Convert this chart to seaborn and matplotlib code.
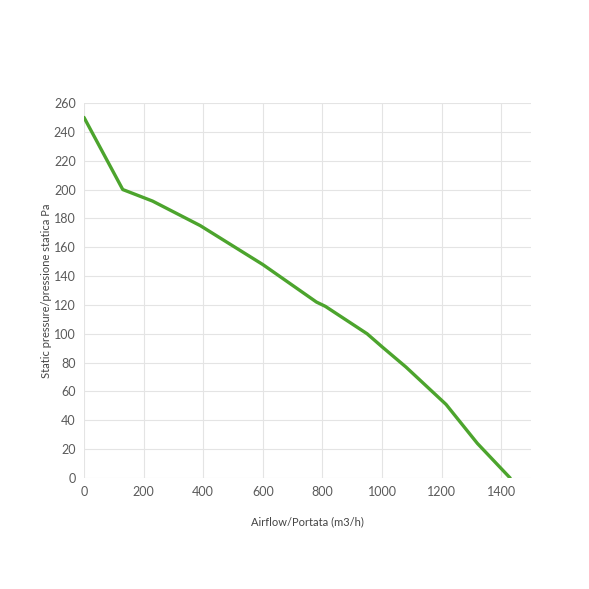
import matplotlib
matplotlib.use("Agg")
import matplotlib.pyplot as plt
import seaborn as sns
import pandas as pd

airflow = [0, 130, 230, 390, 600, 780, 810, 950, 1000, 1080, 1215, 1320, 1430]
pressure = [250, 200, 192, 175, 148, 122, 119, 100, 91, 77, 51, 24, 0]
x_ticks = [0, 200, 400, 600, 800, 1000, 1200, 1400]
y_ticks = list(range(0, 261, 20))

sns.set_theme(style="whitegrid")
plt.rcParams['font.family'] = ['Lato', 'DejaVu Sans']

df = pd.DataFrame({"Airflow": airflow, "Pressure": pressure})

fig = plt.figure(figsize=(5.89, 5.89), dpi=100)
ax = fig.add_axes([84/589, 1 - 478/589, (531-84)/589, (478-103)/589])
sns.lineplot(data=df, x="Airflow", y="Pressure", ax=ax, color="#4ca42d", linewidth=2.4)

ax.set_xlim(0, 1500)
ax.set_ylim(0, 260)
ax.set_xticks(x_ticks)
ax.set_yticks(y_ticks)
ax.grid(True, color="#e4e4e4", linewidth=0.8)
for s in ax.spines.values():
    s.set_visible(False)
ax.tick_params(axis="both", labelsize=9, colors="#5a5a5a", length=0, pad=6)
ax.set_xlabel("Airflow/Portata (m3/h)", fontsize=8, color="#444444", labelpad=13)
ax.set_ylabel("Static pressure/pressione statica Pa", fontsize=8, color="#444444", labelpad=1)

fig.savefig("out.png", dpi=100, facecolor="white")
